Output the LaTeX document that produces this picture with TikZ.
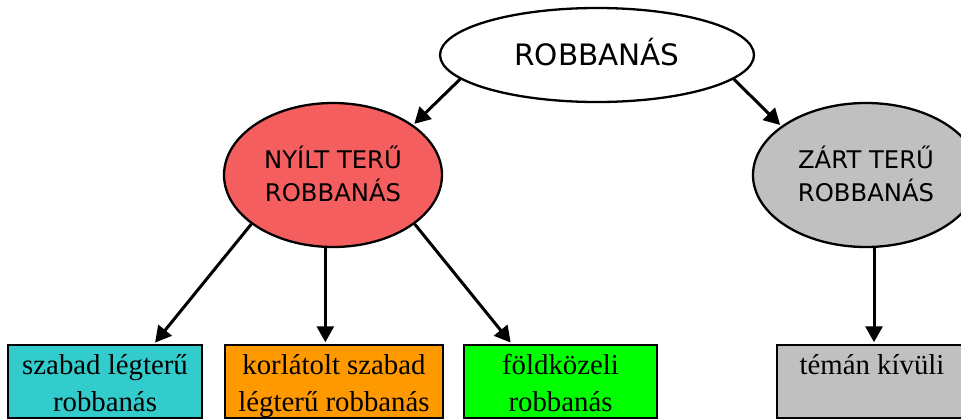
\documentclass[tikz,border=0pt]{standalone}
\usepackage{fontspec}
\setmainfont{Liberation Serif}
\newfontfamily\sansf{DejaVu Sans}
\usetikzlibrary{shapes.geometric,arrows.meta,calc}
\definecolor{redfill}{RGB}{245,94,94}
\definecolor{cyanfill}{RGB}{51,204,204}
\definecolor{orangefill}{RGB}{255,153,0}
\definecolor{greenfill}{RGB}{0,255,0}
\definecolor{grayfill}{RGB}{192,192,192}
\newcommand\myTopStrut{\rule[-6.4pt]{0pt}{34.4pt}}
\newcommand\myEllStrut{\rule[-6.5pt]{0pt}{33pt}}
\newcommand\myBoxStrut{\rule[-6.95pt]{0pt}{36.5pt}}
\tikzset{
  ell/.style={ellipse, draw, line width=2.3pt, inner sep=0pt, align=center,
    font=\sansf\fontsize{24.3}{33}\selectfont},
  rbox/.style={rectangle, draw, line width=2.5pt, inner sep=0pt, minimum height=72pt, align=center,
    font=\fontsize{28.8}{36.5}\selectfont},
  arr/.style={line width=3pt, shorten >=1.5pt, -{Triangle[length=16pt,width=17pt]}}
}
\begin{document}
\begin{tikzpicture}[x=1pt,y=-1pt]
\useasboundingbox (0,0) rectangle (961,418);
\begin{scope}
\clip (0,0) rectangle (961,418);
\node[ell, fill=white, minimum width=314pt, minimum height=94pt,
  font=\sansf\fontsize{29.5}{35}\selectfont] (top) at (597,55) {\myTopStrut ROBBANÁS};
\node[ell, fill=redfill, minimum width=218pt, minimum height=144pt] (red) at (333,175)
  {\myEllStrut NYÍLT TERŰ\\\myEllStrut ROBBANÁS};
\node[ell, fill=grayfill, minimum width=226pt, minimum height=144pt] (gray) at (866,175)
  {\myEllStrut ZÁRT TERŰ\\\myEllStrut ROBBANÁS};
\node[rbox, fill=cyanfill, minimum width=194pt] (cyanbox) at (105,381.5)
  {\myBoxStrut szabad légterű\\\myBoxStrut robbanás};
\node[rbox, fill=orangefill, minimum width=218pt] (orangebox) at (334,381.5)
  {\myBoxStrut korlátolt szabad\\\myBoxStrut légterű robbanás};
\node[rbox, fill=greenfill, minimum width=193pt] (greenbox) at (560.5,381.5)
  {\myBoxStrut földközeli\\\myBoxStrut robbanás};
\node[rbox, fill=grayfill, minimum width=190pt] (graybox) at (872,381.5)
  {\myBoxStrut témán kívüli\\\myBoxStrut};
\draw[arr] (top.190) -- (red.32);
\draw[arr] (top.350) -- (gray.150);
\draw[arr] (red.211) -- ($(cyanbox.north west)!0.75!(cyanbox.north east)$);
\draw[arr] (red.264) -- (red.264 |- orangebox.north);
\draw[arr] (red.329) -- ($(greenbox.north west)!0.25!(greenbox.north east)$);
\coordinate (graytop) at ($(graybox.north)+(2,0)$);
\draw[arr] (gray.south -| graytop) -- (graytop);
\end{scope}
\end{tikzpicture}
\end{document}
